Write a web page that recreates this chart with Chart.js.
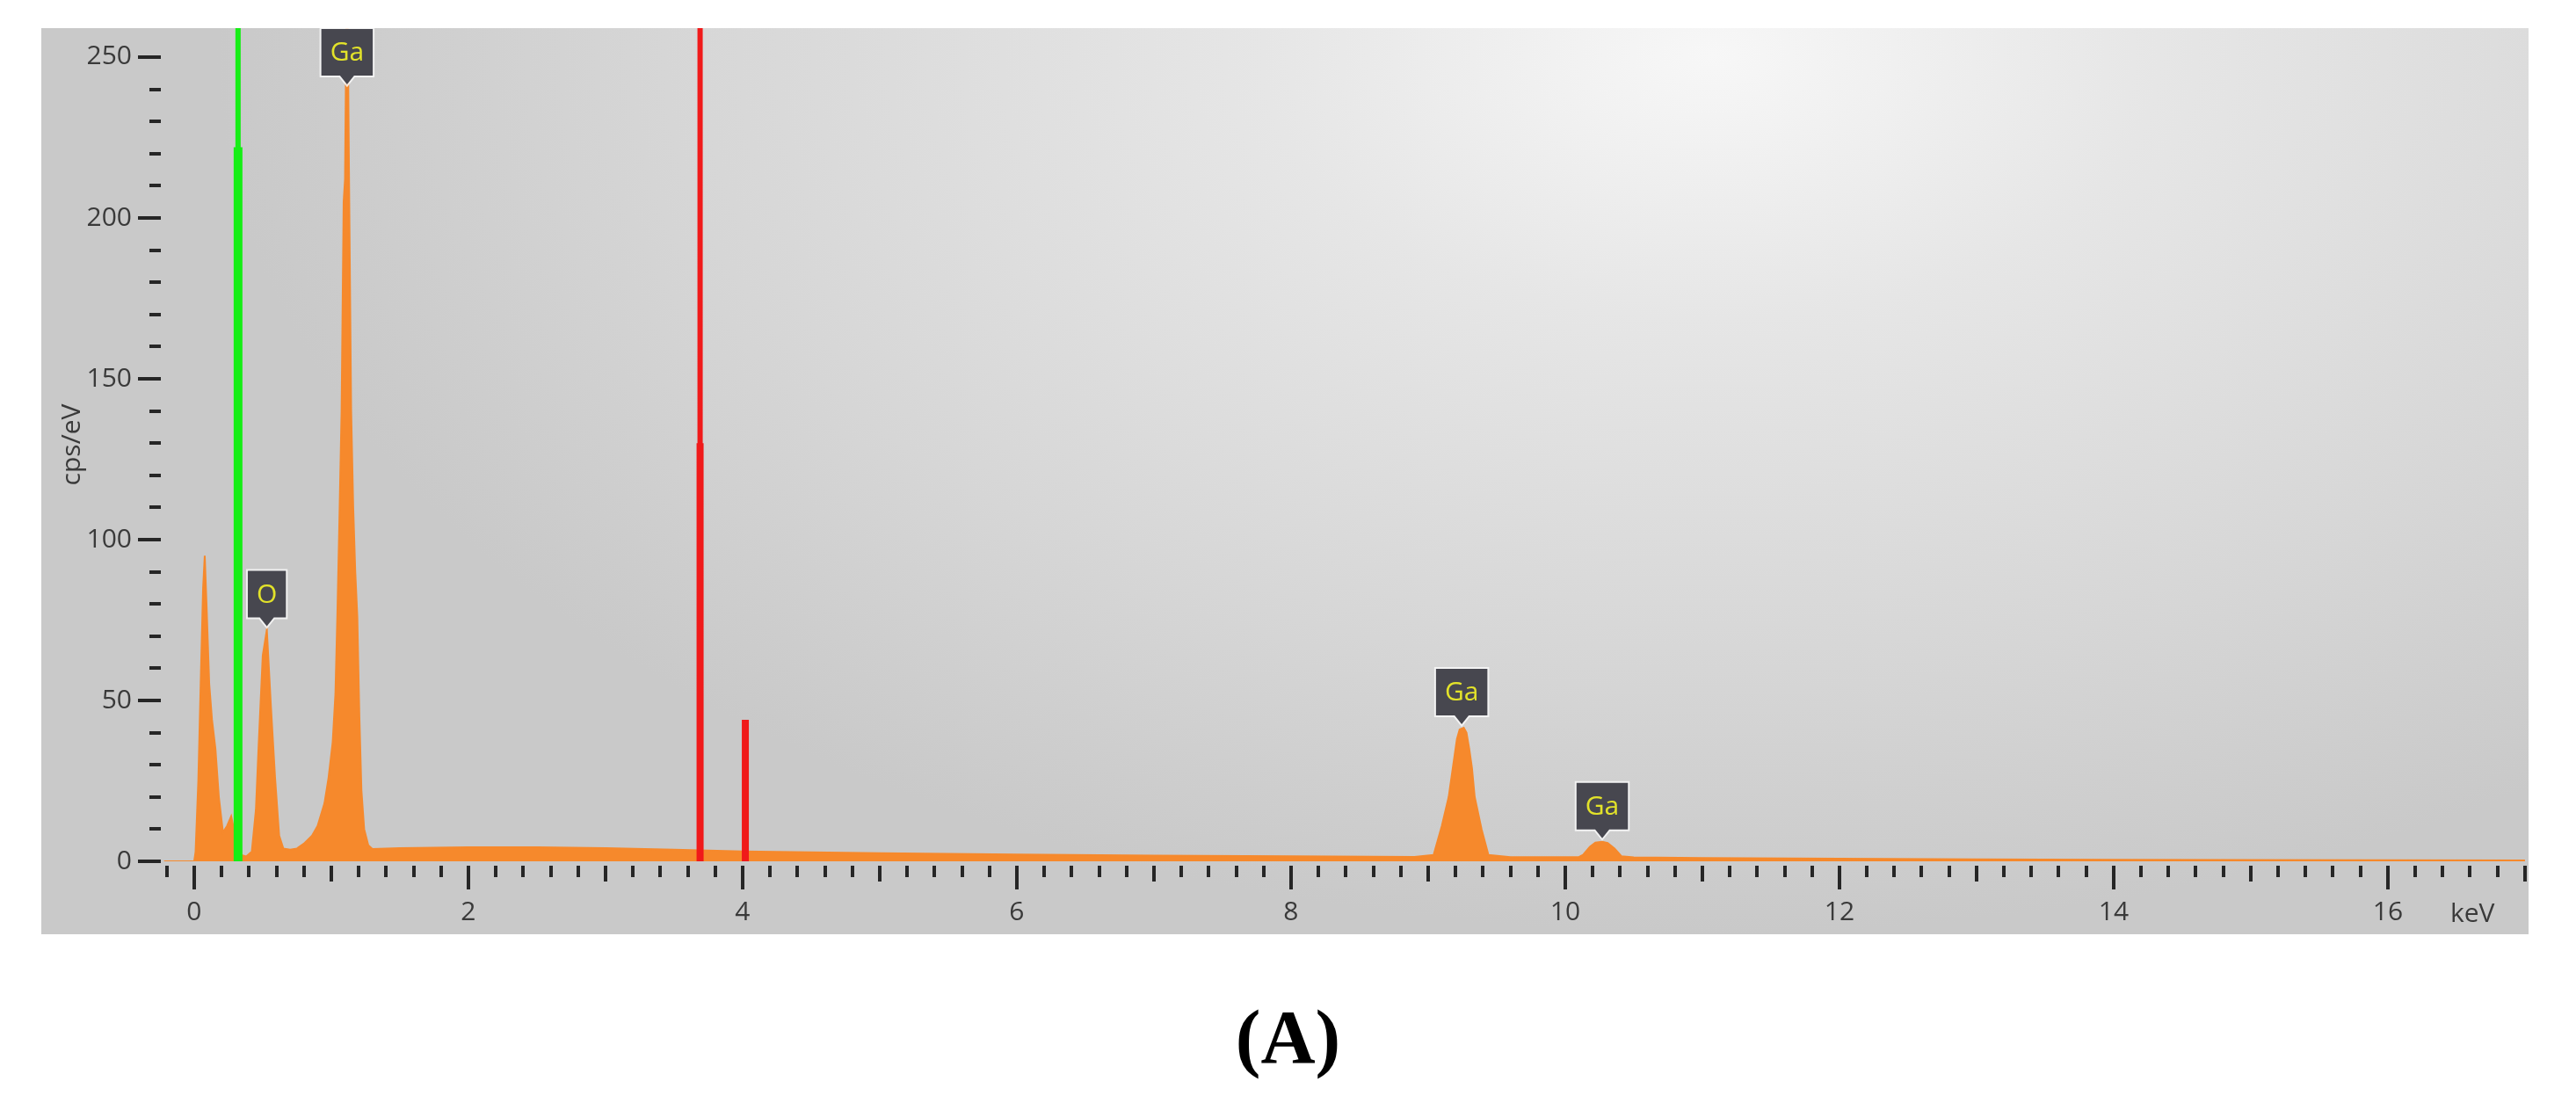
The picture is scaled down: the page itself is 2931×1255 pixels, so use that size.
<!DOCTYPE html>
<html>
<head>
<meta charset="utf-8">
<title>EDS spectrum (A)</title>
<script src="https://cdn.jsdelivr.net/npm/chart.js@4.4.1/dist/chart.umd.min.js"></script>
<style>
  html, body { margin: 0; padding: 0; background: #fff; }
  body { width: 2931px; height: 1255px; position: relative; overflow: hidden; }
  #panel {
    position: absolute; left: 47px; top: 32px; width: 2830px; height: 1031px;
    background: radial-gradient(ellipse 1700px 1000px at 1900px 30px, #f7f7f7 0%, #e6e6e6 30%, #d6d6d6 70%, #c9c9c9 100%);
  }
  #caption {
    position: absolute; left: 0; top: 1137px; width: 2931px; text-align: center;
    font: bold 86px/86px "Liberation Serif", "Times New Roman", serif; color: #000;
  }
</style>
</head>
<body>
<div id="panel"><canvas id="spectrum" width="2830" height="1031"></canvas></div>
<div id="caption">(A)</div>

<script>
// spectrum (keV, cps/eV)
const energy = [
  -0.22, 0.00, 0.01, 0.03, 0.05, 0.065, 0.077, 0.09, 0.11, 0.13, 0.155, 0.18, 0.21, 0.24, 0.27, 0.30, 0.34, 0.38,
  0.42, 0.45, 0.47, 0.50, 0.53, 0.56, 0.59, 0.62, 0.65, 0.70, 0.75, 0.80, 0.86, 0.90, 0.95, 0.98, 1.01, 1.03,
  1.045, 1.06, 1.075, 1.09, 1.10, 1.115, 1.13, 1.145, 1.16, 1.175, 1.19, 1.205, 1.22, 1.24, 1.27, 1.30,
  1.5, 2.0, 2.5, 3.0, 3.5, 4.0, 4.5, 5.0, 6.0, 7.0, 8.0, 8.9,
  9.04, 9.10, 9.15, 9.18, 9.21, 9.23, 9.26, 9.28, 9.30, 9.32, 9.34, 9.39, 9.44, 9.6,
  10.1, 10.13, 10.18, 10.22, 10.27, 10.31, 10.36, 10.41, 10.5,
  11.0, 12.0, 13.0, 14.0, 15.0, 16.0, 17.0
];
const counts = [
  0, 0, 3, 25, 60, 85, 95, 80, 55, 44, 35, 20, 9, 11, 14, 8, 2, 1.5,
  3, 16, 36, 64, 72, 48, 26, 8, 4, 3.6, 4, 5.5, 8, 11, 18, 26, 37, 52,
  78, 108, 140, 205, 212, 285, 210, 140, 110, 90, 76, 45, 22, 10, 5, 3.8,
  4.1, 4.4, 4.4, 4.1, 3.6, 3.1, 2.8, 2.5, 2.1, 1.8, 1.6, 1.4,
  2, 11, 20, 29, 38, 41, 41.5, 40, 35, 29, 20, 10, 2, 1.3,
  1.3, 2, 4.5, 5.8, 6.1, 5.7, 4, 1.6, 1.2,
  1.0, 0.8, 0.6, 0.5, 0.4, 0.35, 0.3
];

const xTickValues = [0, 2, 4, 6, 8, 10, 12, 14, 16];
const yTickValues = [0, 50, 100, 150, 200, 250];

// element markers
const peakNames = ['O', 'Ga', 'Ga', 'Ga'];
const peakEnergy = [0.53, 1.115, 9.245, 10.27];

// cursor lines: green one first, then the two red ones
const cursorEnergy = [0.32, 3.69, 4.02];
const cursorBar = [222, 130, 44];
const cursorLine = [300, 300, 44];

const orange = '#f6892c';

const cursorSets = [];
cursorEnergy.forEach((e, i) => {
  const col = i === 0 ? '#16ee16' : '#f01a1a';
  cursorSets.push({
    data: [{ x: e, y: 0 }, { x: e, y: cursorLine[i] }],
    borderColor: col, borderWidth: 6, pointRadius: 0, order: 0
  });
  cursorSets.push({
    data: [{ x: e, y: 0 }, { x: e, y: cursorBar[i] }],
    borderColor: col, borderWidth: i === 0 ? 10 : 8, pointRadius: 0, order: 0
  });
});

const edsDecor = {
  id: 'edsDecor',
  afterDraw(chart) {
    const { ctx, chartArea, scales: { x, y } } = chart;
    ctx.save();
    ctx.fillStyle = '#262626';

    // x ticks every 0.2 keV, longer on whole keV
    for (let k = -1; k <= 85; k++) {
      const px = x.getPixelForValue(k * 0.2);
      if (px < chartArea.left - 1 || px > chartArea.right + 2) continue;
      const len = k % 10 === 0 ? 27 : (k % 5 === 0 ? 18 : 13);
      ctx.fillRect(Math.round(px) - 2, chartArea.bottom + 5, 4, len);
    }
    // y ticks every 10
    for (let v = 0; v <= 250; v += 10) {
      const py = y.getPixelForValue(v);
      const len = v % 50 === 0 ? 26 : 13;
      ctx.fillRect(chartArea.left - 3 - len, Math.round(py) - 2, len, 4);
    }

    ctx.fillStyle = '#3a3a3a';
    ctx.font = '30px "Open Sans"';
    ctx.textAlign = 'left';
    ctx.textBaseline = 'middle';
    ctx.fillText('keV', chartArea.right - 88, chartArea.bottom + 60);
    ctx.restore();
  },
  afterDatasetsDraw(chart) {
    const { ctx, chartArea, scales: { x, y } } = chart;
    ctx.save();
    ctx.font = '30px "Open Sans"';
    peakEnergy.forEach((e, i) => {
      let top = 0;
      energy.forEach((en, j) => { if (Math.abs(en - e) < 0.03) top = Math.max(top, counts[j]); });
      const px = x.getPixelForValue(e);
      const h = 53;
      const tip = Math.max(y.getPixelForValue(top) - 4, chartArea.top + h + 11);
      const w = ctx.measureText(peakNames[i]).width + 20;
      const bottom = tip - 10;
      const boxTop = bottom - h;
      const l = px - w / 2, r = px + w / 2;

      ctx.beginPath();
      ctx.moveTo(l, boxTop);
      ctx.lineTo(r, boxTop);
      ctx.lineTo(r, bottom);
      ctx.lineTo(px + 8, bottom);
      ctx.lineTo(px, tip);
      ctx.lineTo(px - 8, bottom);
      ctx.lineTo(l, bottom);
      ctx.closePath();
      ctx.strokeStyle = 'rgba(248,248,248,0.85)';
      ctx.lineWidth = 4;
      ctx.stroke();
      ctx.fillStyle = '#47474f';
      ctx.fill();

      ctx.fillStyle = '#e2e22a';
      ctx.textAlign = 'center';
      ctx.textBaseline = 'middle';
      ctx.fillText(peakNames[i], px, boxTop + h / 2 + 1);
    });
    ctx.restore();
  }
};

new Chart(document.getElementById('spectrum'), {
  type: 'line',
  data: {
    datasets: [
      ...cursorSets,
      {
        data: energy.map((e, i) => ({ x: e, y: counts[i] })),
        borderColor: orange,
        backgroundColor: orange,
        borderWidth: 2,
        pointRadius: 0,
        tension: 0,
        fill: 'origin',
        order: 2
      }
    ]
  },
  options: {
    responsive: false,
    animation: false,
    events: [],
    layout: { padding: { left: 0, right: 1, top: 0, bottom: 0 } },
    plugins: { legend: { display: false }, tooltip: { enabled: false } },
    scales: {
      x: {
        type: 'linear', min: -0.224, max: 17.02,
        grid: { display: false, drawTicks: false },
        border: { display: false },
        afterBuildTicks: s => { s.ticks = xTickValues.map(v => ({ value: v })); },
        afterFit: s => { s.height = 83; s.paddingLeft = 0; s.paddingRight = 0; },
        ticks: { color: '#3a3a3a', font: { family: 'Open Sans', size: 30 }, padding: 40, maxRotation: 0, autoSkip: false }
      },
      y: {
        type: 'linear', min: 0, max: 259,
        grid: { display: false, drawTicks: false },
        border: { display: false },
        afterBuildTicks: s => { s.ticks = yTickValues.map(v => ({ value: v })); },
        afterFit: s => { s.width = 139; s.paddingTop = 0; s.paddingBottom = 0; },
        ticks: { color: '#3a3a3a', font: { family: 'Open Sans', size: 30 }, padding: 36 },
        title: { display: true, text: 'cps/eV', color: '#3a3a3a', font: { family: 'Open Sans', size: 30 }, padding: { top: 17 } }
      }
    }
  },
  plugins: [edsDecor]
});
</script>
</body>
</html>
